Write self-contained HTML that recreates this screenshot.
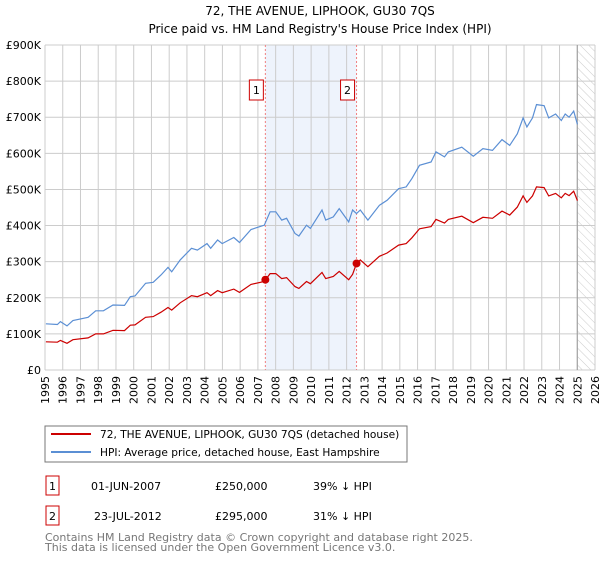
<!DOCTYPE html>
<html><head><meta charset="utf-8"><style>
body{margin:0;background:#fff;font-family:"DejaVu Sans","Liberation Sans",sans-serif;}
svg text{font-family:"DejaVu Sans","Liberation Sans",sans-serif;}
</style></head><body>
<svg id="c" width="600" height="560" xmlns="http://www.w3.org/2000/svg">
<defs><pattern id="hatch" width="6" height="6" patternUnits="userSpaceOnUse" patternTransform="rotate(-45)"><line x1="0" y1="0" x2="0" y2="6" stroke="#ccc" stroke-width="1"/></pattern></defs>
<text x="320" y="15" text-anchor="middle" font-size="12">72, THE AVENUE, LIPHOOK, GU30 7QS</text>
<text x="320" y="33" text-anchor="middle" font-size="12">Price paid vs. HM Land Registry's House Price Index (HPI)</text>
<g id="grid"></g><g id="marks"></g><g id="axes"></g>
<rect x="45" y="426" width="362" height="36" fill="#fff" stroke="#777"/>
<line x1="51" y1="434" x2="91" y2="434" stroke="#cc0000" stroke-width="2"/>
<text x="100" y="438" font-size="10.6">72, THE AVENUE, LIPHOOK, GU30 7QS (detached house)</text>
<line x1="51" y1="452" x2="91" y2="452" stroke="#5b8fd4" stroke-width="2"/>
<text x="100" y="456" font-size="10.6">HPI: Average price, detached house, East Hampshire</text>
<g font-size="11">
<rect x="46" y="476" width="13" height="19" fill="#fff" stroke="#cc0000"/>
<text x="52.5" y="490" text-anchor="middle">1</text>
<text x="91" y="490">01-JUN-2007</text>
<text x="215" y="490">£250,000</text>
<text x="313" y="490">39% ↓ HPI</text>
<rect x="46" y="506" width="13" height="19" fill="#fff" stroke="#cc0000"/>
<text x="52.5" y="520" text-anchor="middle">2</text>
<text x="94" y="520">23-JUL-2012</text>
<text x="215" y="520">£295,000</text>
<text x="313" y="520">31% ↓ HPI</text>
</g>
<text x="45" y="541" font-size="11" fill="#777">Contains HM Land Registry data © Crown copyright and database right 2025.</text>
<text x="45" y="551" font-size="11" fill="#777">This data is licensed under the Open Government Licence v3.0.</text>
</svg>
<script>
const years=[1995.05,1995.70,1995.87,1996.24,1996.57,1997.43,1997.86,1998.29,1998.83,1999.48,1999.81,2000.07,2000.67,2001.10,2001.54,2001.93,2002.14,2002.62,2003.26,2003.59,2004.13,2004.34,2004.73,2004.99,2005.64,2005.96,2006.61,2007.36,2007.69,2008.01,2008.34,2008.62,2009.09,2009.31,2009.74,2009.96,2010.61,2010.82,2011.25,2011.58,2012.12,2012.34,2012.56,2012.77,2013.20,2013.85,2014.28,2014.93,2015.36,2015.68,2016.11,2016.76,2017.04,2017.52,2017.73,2018.49,2019.14,2019.68,2020.22,2020.76,2021.19,2021.62,2021.95,2022.16,2022.48,2022.70,2023.13,2023.39,2023.78,2024.10,2024.32,2024.54,2024.80,2025.01];
const hpi=[128,126,134,122,137,146,164,164,180,179,203,205,240,243,263,284,272,305,337,332,350,337,360,350,367,353,389,401,438,438,415,420,378,371,401,392,443,415,424,447,410,443,433,443,415,456,470,502,507,530,567,576,604,590,604,617,592,613,608,638,622,654,698,673,698,735,732,698,709,691,709,700,717,680];
const price=[78,77,82,74,84,89,100,100,110,109,124,125,146,148,160,173,166,186,206,203,214,206,220,214,224,215,237,245,267,267,253,256,231,226,245,239,270,253,259,273,250,265,295,305,286,315,324,346,350,366,391,397,417,407,417,426,408,423,420,440,429,451,482,464,482,507,505,482,489,477,489,483,495,469];
const saleYears=[2007.42,2012.56];
const salePrices=[250,295];
const yTicks=[0,100,200,300,400,500,600,700,800,900];
const yTickLabels=["£0","£100K","£200K","£300K","£400K","£500K","£600K","£700K","£800K","£900K"];
const L=45,R=595,T=45,B=370,Y0=1995,Y1=2026,VMAX=900;
const X=y=>L+(y-Y0)/(Y1-Y0)*(R-L);
const Yv=v=>B-v/VMAX*(B-T);
const NS="http://www.w3.org/2000/svg";
function mk(tag,parent,attrs){const e=document.createElementNS(NS,tag);for(const k in attrs)e.setAttribute(k,attrs[k]);parent.appendChild(e);return e;}
const grid=document.getElementById('grid'),marks=document.getElementById('marks'),axes=document.getElementById('axes');
let r=mk('rect',grid,{x:X(saleYears[0]),y:T,width:X(saleYears[1])-X(saleYears[0]),height:B-T,fill:'#eef3fc'});


r=mk('rect',grid,{x:X(2025),y:T,width:R-X(2025),height:B-T,fill:'url(#hatch)'});


for(let y=Y0;y<=Y1;y++){
 const l=mk('line',grid,{x1:X(y),x2:X(y),y1:T,y2:B,stroke:'#ccc','stroke-width':1});
 
 
 const t=mk('text',axes,{x:0,y:0,'font-size':11,'text-anchor':'end',transform:`translate(${X(y)+4},${B+6}) rotate(-90)`});
 t.textContent=y;
 
 
}
yTicks.forEach((v,i)=>{
 const l=mk('line',grid,{x1:L,x2:R,y1:Yv(v),y2:Yv(v),stroke:'#ccc','stroke-width':1});
 
 
 const t=mk('text',axes,{x:L-4,y:Yv(v)+4,'font-size':11,'text-anchor':'end'});
 t.textContent=yTickLabels[i];
 
 
});
let vl=mk('line',grid,{x1:X(2025),x2:X(2025),y1:T,y2:B,stroke:'#999','stroke-width':1});


saleYears.forEach((sy,i)=>{
 const l=mk('line',marks,{x1:X(sy),x2:X(sy),y1:T,y2:B,stroke:'#f08080','stroke-width':1,'stroke-dasharray':'2,2'});
 
 
});
const pts=(arr)=>arr.map((v,i)=>X(years[i]).toFixed(1)+','+Yv(v).toFixed(1)).join(' ');
let p=mk('polyline',marks,{points:pts(hpi),fill:'none',stroke:'#5b8fd4','stroke-width':1.2});


p=mk('polyline',marks,{points:pts(price),fill:'none',stroke:'#cc0000','stroke-width':1.2});


saleYears.forEach((sy,i)=>{
 const c=mk('circle',marks,{cx:X(sy),cy:Yv(salePrices[i]),r:4,fill:'#cc0000'});
 
 
 const b=mk('rect',marks,{x:X(sy)-16,y:80,width:14,height:20,fill:'#fff',stroke:'#cc0000'});
 
 
 const t=mk('text',marks,{x:X(sy)-9,y:94,'font-size':11,'text-anchor':'middle'});
 t.textContent=String(i+1);
 
 
});
</script>
</body></html>
